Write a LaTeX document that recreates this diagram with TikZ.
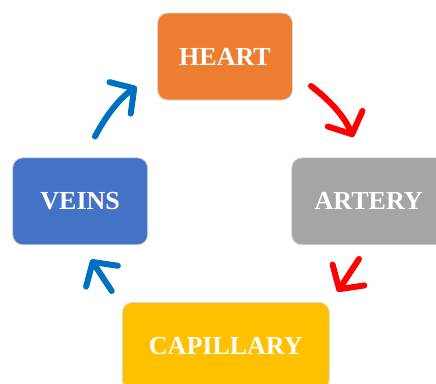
\documentclass[tikz,border=0pt]{standalone}
\usepackage{fontspec}
\setmainfont{Liberation Serif}
\usetikzlibrary{arrows.meta}
\definecolor{cHeart}{HTML}{ED7D31}
\definecolor{cArtery}{HTML}{A5A5A5}
\definecolor{cVeins}{HTML}{4472C4}
\definecolor{cCap}{HTML}{FFC000}
\definecolor{cRed}{HTML}{FF0000}
\definecolor{cBlue}{HTML}{0070C0}
\definecolor{cEdge}{HTML}{D9D9D9}
\begin{document}
\begin{tikzpicture}[x=1pt,y=-1pt,
  box/.style={draw=cEdge, line width=0.8pt, rounded corners=10pt, minimum height=87pt,
    text=white, font=\fontsize{26}{30}\selectfont\bfseries, inner sep=0pt},
  flow/.style={line width=6pt, line cap=round,
    -{Straight Barb[length=17pt,width=38pt,line cap=round,line join=round]}}]
\useasboundingbox (0,0) rectangle (436,383);
\clip (0,0) rectangle (436,383);
\node[box, fill=cHeart, minimum width=135pt] (heart) at (225,56.5) {HEART};
\node[box, fill=cArtery, minimum width=154pt] (artery) at (368.7,201.3) {ARTERY};
\node[box, fill=cVeins, minimum width=135pt] (veins) at (80.2,201.3) {VEINS};
\node[box, fill=cCap, minimum width=207pt] (cap) at (225.8,346) {CAPILLARY};
\coordinate (r1s) at (311,86);
\coordinate (r1e) at (353.3,137);
\coordinate (r2s) at (359,259);
\coordinate (r2e) at (337.5,291.7);
\coordinate (b1s) at (95,136.5);
\coordinate (b1e) at (136.7,86.7);
\coordinate (b2s) at (111.7,291);
\coordinate (b2e) at (91,259.5);
\draw[flow, cRed] (r1s) .. controls (328,99) and (343,114) .. (r1e);
\draw[flow, cRed] (r2s) -- (r2e);
\draw[flow, cBlue] (b1s) .. controls (103,121) and (117,100) .. (b1e);
\draw[flow, cBlue] (b2s) -- (b2e);
\end{tikzpicture}
\end{document}
